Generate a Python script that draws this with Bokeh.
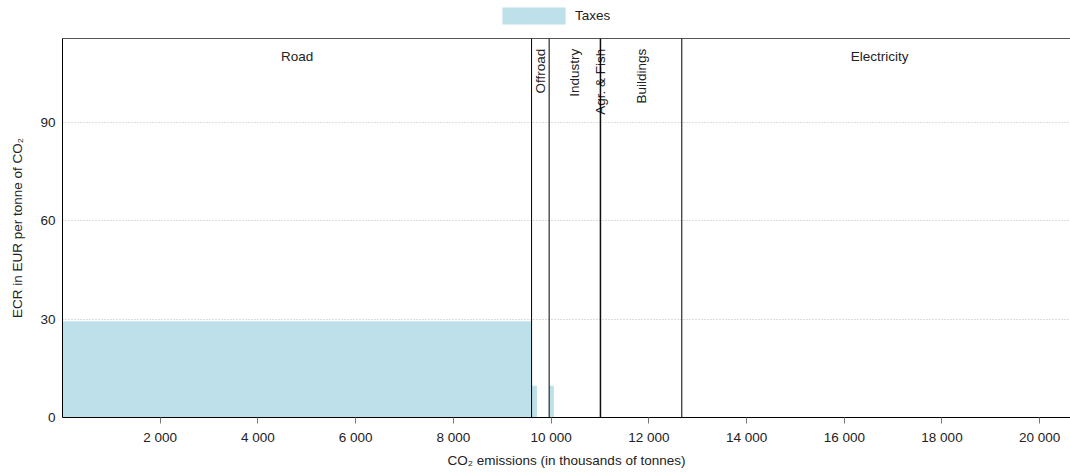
import math
from bokeh.plotting import figure
from bokeh.layouts import column
from bokeh.models import (ColumnDataSource, FixedTicker, LinearAxis, Legend,
                          LegendItem, Range1d, Span)
from bokeh.core.properties import value
from bokeh.embed import file_html
from bokeh.resources import INLINE

# ---------------- data ----------------
sectors = ["Road", "Offroad", "Industry", "Agr. & Fish", "Buildings", "Electricity"]
sector_emissions = [9600, 360, 1045, 10, 1660, 8100]   # thousands of tonnes CO2
taxed_emissions = [9600, 110, 96, 0, 0, 0]             # emissions covered by taxes
tax_rates = [29.3, 9.7, 9.7, 0, 0, 0]                  # EUR per tonne CO2
rotated_label = [False, True, True, True, True, False]
series_name = "Taxes"

x_ticks = [2000, 4000, 6000, 8000, 10000, 12000, 14000, 16000, 18000, 20000]
x_tick_labels = ["2 000", "4 000", "6 000", "8 000", "10 000", "12 000",
                 "14 000", "16 000", "18 000", "20 000"]
y_ticks = [0, 30, 60, 90]

X_MAX = 20630
Y_MAX = 115.5

FONT = "Liberation Sans"
FS = "13.5px"
TXT = "#222222"
BAR_COLOR = "#BEE0EA"

# ---------------- derived ----------------
starts, ends = [], []
acc = 0
for e in sector_emissions:
    starts.append(acc)
    acc += e
    ends.append(acc)
mids = [(s + e) / 2 for s, e in zip(starts, ends)]

bar_src = ColumnDataSource(dict(
    left=starts,
    right=[s + t for s, t in zip(starts, taxed_emissions)],
    bottom=[0] * len(sectors),
    top=tax_rates,
))

# ---------------- legend strip (same bars, kept out of view) ----------------
lg = figure(width=1070, height=38, x_range=Range1d(-2, -1), y_range=Range1d(-2, -1),
            output_backend="svg", toolbar_location=None,
            min_border_left=62, min_border_right=0, min_border_top=0, min_border_bottom=0)
lg.axis.visible = False
lg.grid.visible = False
lg.outline_line_color = None
proxy = lg.quad(left="left", right="right", bottom="bottom", top="top", source=bar_src,
                fill_color=BAR_COLOR, line_color=None)
legend = Legend(items=[LegendItem(label=series_name, renderers=[proxy])],
                location=(432, 12), orientation="horizontal",
                glyph_width=79, glyph_height=21, label_height=21, label_standoff=2,
                padding=0, margin=0, border_line_color=None, background_fill_alpha=0,
                label_text_font=FONT, label_text_font_size=FS, label_text_color=TXT)
lg.add_layout(legend, "center")

# ---------------- main plot ----------------
p = figure(width=1070, height=434, x_range=Range1d(0, X_MAX), y_range=Range1d(0, Y_MAX),
           output_backend="svg", toolbar_location=None,
           min_border_left=62, min_border_right=0, min_border_top=0, min_border_bottom=55)
p.outline_line_color = None
p.background_fill_color = "white"

p.quad(left="left", right="right", bottom="bottom", top="top", source=bar_src,
       fill_color=BAR_COLOR, line_color=None)

for e in ends[:-1]:
    p.add_layout(Span(location=e, dimension="height", line_color="black", line_width=1))

# sector labels
hx = [m for m, r in zip(mids, rotated_label) if not r]
ht = [s for s, r in zip(sectors, rotated_label) if not r]
rx = [m for m, r in zip(mids, rotated_label) if r]
rt = [s for s, r in zip(sectors, rotated_label) if r]
p.text(x=hx, y=[110.0] * len(hx), text=ht, text_align="center", text_baseline="middle",
       text_font=value(FONT), text_font_size=FS, text_color=TXT)
p.text(x=rx, y=[112.4] * len(rx), text=rt, angle=math.pi / 2, text_align="right",
       text_baseline="middle", text_font=value(FONT), text_font_size=FS, text_color=TXT)

# axes
xa = p.xaxis[0]
xa.ticker = FixedTicker(ticks=x_ticks)
xa.major_label_overrides = {t: l for t, l in zip(x_ticks, x_tick_labels)}
xa.axis_label = "CO\u2082 emissions (in thousands of tonnes)"
xa.axis_line_color = "black"
xa.major_tick_line_color = "#777777"
xa.major_tick_out = 6
xa.major_tick_in = 0
xa.minor_tick_line_color = None
xa.major_label_standoff = 6
xa.axis_label_standoff = 5

ya = p.yaxis[0]
ya.ticker = FixedTicker(ticks=y_ticks)
ya.axis_label = "ECR in EUR per tonne of CO\u2082"
ya.axis_line_color = "black"
ya.major_tick_line_color = None
ya.major_tick_out = 0
ya.major_tick_in = 0
ya.minor_tick_line_color = None
ya.major_label_standoff = 7
ya.axis_label_standoff = 12

for ax in (xa, ya):
    ax.major_label_text_font = FONT
    ax.major_label_text_font_size = FS
    ax.major_label_text_color = TXT
    ax.axis_label_text_font = FONT
    ax.axis_label_text_font_size = FS
    ax.axis_label_text_font_style = "normal"
    ax.axis_label_text_color = TXT

top_axis = LinearAxis(ticker=FixedTicker(ticks=[]), axis_line_color="#555555",
                      major_tick_line_color=None, minor_tick_line_color=None,
                      major_tick_out=0, major_tick_in=0, major_label_standoff=0,
                      major_label_text_font_size="0px")
p.add_layout(top_axis, "above")

p.xgrid.visible = False
p.ygrid.ticker = FixedTicker(ticks=y_ticks)
p.ygrid.grid_line_color = "#BBBBBB"
p.ygrid.grid_line_dash = "1 2"

layout = column(lg, p, spacing=0)
open("out.html", "w").write(file_html(layout, INLINE))
